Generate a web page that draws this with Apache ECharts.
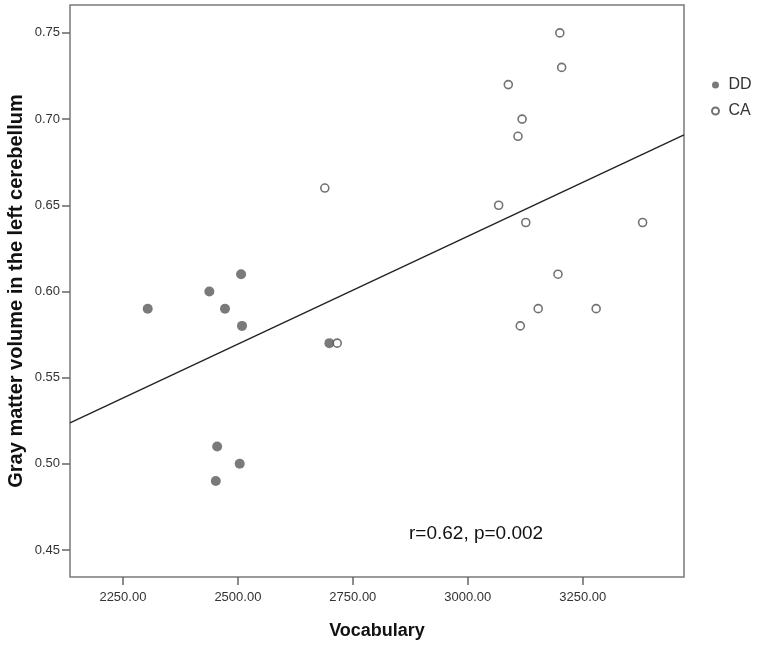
<!DOCTYPE html>
<html>
<head>
<meta charset="utf-8">
<script src="https://cdn.jsdelivr.net/npm/echarts@6/dist/echarts.min.js"></script>
<style>
html,body{margin:0;padding:0;background:#fff;}
#chart{width:758px;height:648px;}
</style>
</head>
<body>
<div id="chart"></div>
<script>
// Data
var ddX = [2304, 2438, 2472, 2507, 2509, 2699, 2455, 2504, 2452];
var ddY = [0.59, 0.60, 0.59, 0.61, 0.58, 0.57, 0.51, 0.50, 0.49];
var caX = [2689, 2716, 3067, 3088, 3109, 3114, 3118, 3126, 3153, 3196, 3200, 3204, 3279, 3380];
var caY = [0.66, 0.57, 0.65, 0.72, 0.69, 0.58, 0.70, 0.64, 0.59, 0.61, 0.75, 0.73, 0.59, 0.64];
// Fit line end points
var fitX = [2135, 3470];
var fitY = [0.5237, 0.6908];
var xTicks = [2250, 2500, 2750, 3000, 3250];
var yTicks = [0.45, 0.50, 0.55, 0.60, 0.65, 0.70, 0.75];
var statText = 'r=0.62, p=0.002';

function zip(a, b) { return a.map(function (v, i) { return [v, b[i]]; }); }

var font = '"Liberation Sans", Arial, sans-serif';
var chart = echarts.init(document.getElementById('chart'), null, {renderer: 'canvas'});
chart.setOption({
  animation: false,
  backgroundColor: '#fff',
  grid: {
    left: 70, top: 5, right: 74, bottom: 71,
    outerBoundsMode: 'none', containLabel: false,
    show: true, borderColor: '#7a7a7a', borderWidth: 1.5, backgroundColor: 'transparent'
  },
  legend: {
    orient: 'vertical',
    left: 706, top: 72,
    itemWidth: 16, itemHeight: 7, itemGap: 10,
    data: ['DD', 'CA'],
    textStyle: {fontFamily: font, fontSize: 16, color: '#333', lineHeight: 16},
    icon: 'circle'
  },
  xAxis: {
    type: 'value',
    min: 2135, max: 3470,
    name: 'Vocabulary', nameLocation: 'middle', nameGap: 45, nameMoveOverlap: false,
    nameTextStyle: {fontFamily: font, fontSize: 18, fontWeight: 'bold', color: '#111'},
    splitLine: {show: false},
    axisLine: {show: false},
    axisTick: {show: true, inside: false, length: 8, customValues: xTicks, lineStyle: {color: '#666', width: 1.5}},
    axisLabel: {customValues: xTicks, margin: 14, fontFamily: font, fontSize: 13, color: '#333',
      formatter: function (v) { return v.toFixed(2); }}
  },
  yAxis: {
    type: 'value',
    min: 0.4343, max: 0.7662,
    name: 'Gray matter volume in the left cerebellum', nameLocation: 'middle', nameGap: 44, nameMoveOverlap: false,
    nameTextStyle: {fontFamily: font, fontSize: 20, fontWeight: 'bold', color: '#111'},
    splitLine: {show: false},
    axisLine: {show: false},
    axisTick: {show: true, inside: false, length: 8, customValues: yTicks, lineStyle: {color: '#666', width: 1.5}},
    axisLabel: {customValues: yTicks, margin: 10, fontFamily: font, fontSize: 13, color: '#333',
      formatter: function (v) { return v.toFixed(2); }}
  },
  graphic: [{
    type: 'text', left: 409, top: 524,
    style: {text: statText, fontFamily: font, fontSize: 19, fill: '#111'}
  }],
  series: [
    {
      name: 'fit', type: 'line', data: zip(fitX, fitY), symbol: 'none',
      lineStyle: {color: '#222', width: 1.4}, silent: true, z: 1
    },
    {
      name: 'DD', type: 'scatter', data: zip(ddX, ddY), symbol: 'circle', symbolSize: 10,
      itemStyle: {color: '#595959', borderColor: '#595959', borderWidth: 0}, z: 3
    },
    {
      name: 'CA', type: 'scatter', data: zip(caX, caY), symbol: 'circle', symbolSize: 8,
      itemStyle: {color: '#ffffff', borderColor: '#4f4f4f', borderWidth: 1.6}, z: 3
    }
  ]
});
</script>
</body>
</html>
